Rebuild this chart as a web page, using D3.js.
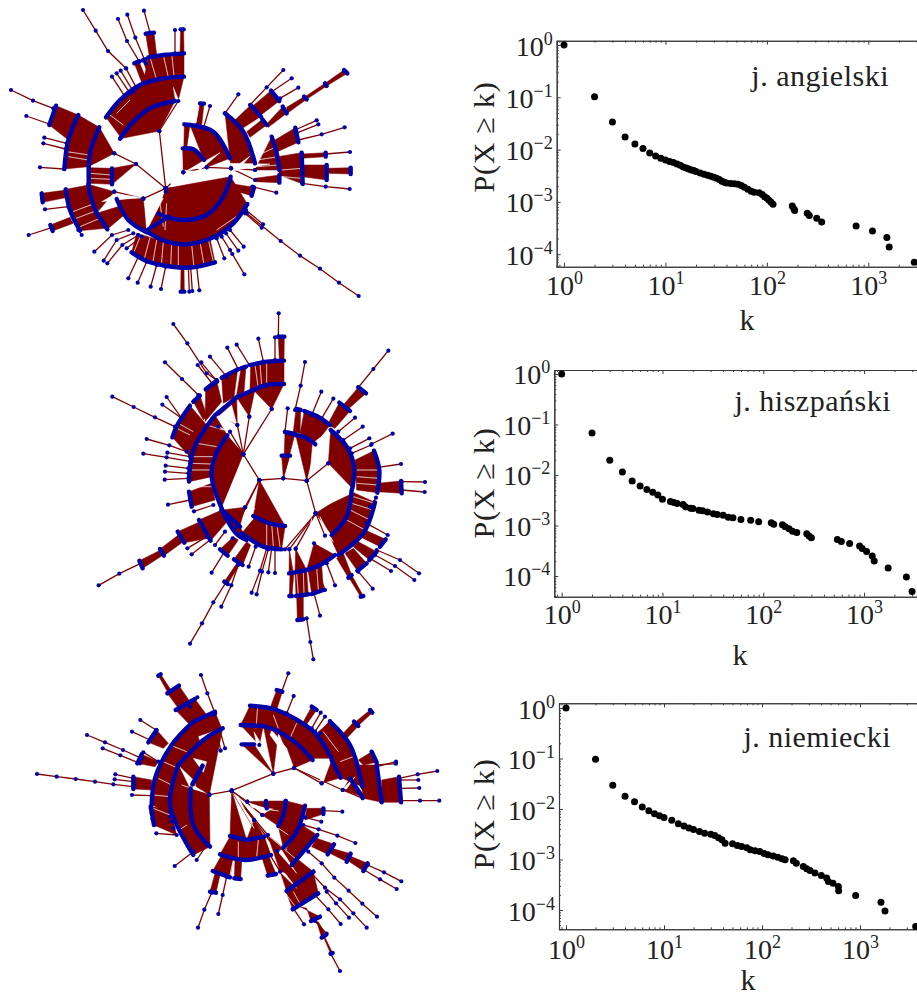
<!DOCTYPE html>
<html>
<head>
<meta charset="utf-8">
<script src="https://cdn.jsdelivr.net/npm/d3@7"></script>
<style>
  html, body { margin: 0; padding: 0; background: #fff; }
  svg { display: block; }
  text { font-family: "Liberation Serif", "DejaVu Serif", serif; fill: #222; }
</style>
</head>
<body>
<div id="container"></div>
<script>
/* DATA: rank-size points */

const tickExponents = [0, -1, -2, -3, -4];
const decades = [1, 10, 100, 1000];

const angielskiK = [1,2,3,4,5,6,7,8,9,10,11,12,13,14,15,16,17,18,19,20,22,24,26,28,30,32,34,36,38,40,44,48,52,56,60,65,70,75,84,90,95,100,105,110,115,178,185,188,250,262,310,347,758,1099,1524,1606,2838];
const angielskiP = [1,.103,.0338,.01746,.0128,.01045,.00863,.00757,.00682,.00635,.0059,.00565,.00532,.00502,.00467,.00446,.00427,.00409,.00397,.0038,.00358,.00338,.00323,.00309,.00296,.00283,.00267,.00248,.00238,.00231,.00224,.00223,.00218,.00205,.00191,.00175,.0016,.00153,.00149,.00138,.00126,.00117,.00108,.00099,.0009,.000839,.000735,.000683,.000607,.000548,.000487,.000415,.000348,.000279,.000208,.000138,.0000703];

const hiszpanskiK = [1,2,3,4,5,6,7,8,9,10,12,13,14,16,17,19,20,23,25,28,32,35,40,45,50,60,75,90,120,127,155,165,180,195,215,270,285,300,543,595,719,903,959,1059,1205,1260,1734,2630,2993];
const hiszpanskiP = [1,.0675,.0195,.01146,.0076,.00607,.00514,.00455,.00403,.00331,.00298,.00284,.00272,.0026,.00233,.0022,.00217,.00201,.00195,.00186,.0017,.00165,.0016,.00146,.00142,.00131,.00127,.00118,.00113,.00106,.00103,.00094,.00086,.00077,.00073,.000685,.000616,.00057,.00053,.000483,.000441,.000391,.000352,.000307,.000248,.000198,.000144,.0000956,.0000491];

const niemieckiK = [1,2,3,4,5,6,7,8,9,10,12,14,16,18,20,23,26,30,33,36,39,42,50,56,62,70,76,85,95,105,115,130,145,160,172,209,224,264,286,309,347,403,457,475,530,601,606,903,1638,1799,3700];
const niemieckiP = [1,.097,.0295,.01785,.014,.01096,.00927,.00807,.00737,.00683,.00596,.00512,.00459,.00419,.00394,.0036,.00333,.00318,.003,.00269,.00246,.00211,.00205,.0019,.00181,.00171,.00156,.00149,.00144,.00132,.00124,.00118,.00111,.00103,.000985,.00094,.000845,.000726,.000653,.000604,.000543,.000481,.000432,.000366,.000339,.000291,.000242,.000193,.000142,.0000955,.0000473];

/* DATA: trees, in layout units.
   fans: [parent span, child arc], chains: node paths, gaps: white slivers between edges */

const tree1Fans = [
  [[[478,393]], [[360,416],[400,365],[450,325],[525,303]]],
  [[[362,412],[400,365],[450,325],[535,300]], [[318,352],[360,300],[420,255],[480,237],[552,230]]],
  [[[430,245],[480,237],[552,230]], [[445,172],[490,165],[552,160]]],
  [[[448,170],[470,165]], [[437,101],[462,98]]],
  [[[540,160],[552,160]], [[542,88],[551,88]]],
  [[[425,247],[440,240]], [[403,190],[417,184]]],
  [[[450,238],[456,236]], [[428,181],[437,178]]],
  [[[343,460]], [[266,500],[272,450],[298,382]]],
  [[[408,492]], [[336,505],[336,553]]],
  [[[336,505],[340,553]], [[266,503],[266,550]]],
  [[[343,575]], [[265,553],[272,590],[290,640]]],
  [[[430,596]], [[290,640],[322,688]]],
  [[[430,596]], [[350,597],[385,660],[440,697]]],
  [[[497,565]], [[503,652],[555,660],[620,645],[670,590],[692,530]]],
  [[[497,565]], [[476,641],[492,648]]],
  [[[503,652],[555,660],[620,645],[670,590],[692,530]], [[440,695],[500,725],[560,733],[640,712],[700,670],[742,612]]],
  [[[497,575]], [[442,690],[505,650]]],
  [[[410,700],[500,725],[560,733],[630,715]], [[395,757],[440,783],[500,798],[570,803],[645,787]]],
  [[[543,802],[552,802]], [[542,875],[553,875]]],
  [[[265,500],[272,450],[298,382]], [[193,507],[205,420],[235,345]]],
  [[[205,420],[235,345]], [[148,375],[168,317]]],
  [[[266,555],[285,620],[318,685]], [[197,568],[210,630],[240,692]]],
  [[[197,570],[203,592]], [[125,580],[128,607]]],
  [[[210,652],[220,670]], [[151,675],[158,693]]],
  [[[550,517]], [[548,445],[580,448],[612,480]]],
  [[[550,517]], [[553,373],[570,375]]],
  [[[620,502]], [[570,375],[640,395],[690,475]]],
  [[[693,505]], [[675,340],[730,395],[765,490]]],
  [[[765,510]], [[815,410],[830,460],[838,510]]],
  [[[765,535],[765,545]], [[838,525],[838,548]]],
  [[[832,470],[838,525]], [[905,458],[908,552]]],
  [[[907,495],[907,530]], [[980,495],[980,540]]],
  [[[980,505],[980,520]], [[1052,503],[1052,522]]],
  [[[905,462],[906,475]], [[977,458],[977,470]]],
  [[[825,420],[832,455]], [[886,383],[895,427]]],
  [[[705,360],[730,385]], [[752,315],[783,350]]],
  [[[740,395],[750,412]], [[787,358],[800,375]]],
  [[[758,318],[783,345]], [[813,272],[838,303]]],
  [[[800,372],[805,382]], [[848,320],[860,340]]],
  [[[860,322],[862,340]], [[912,290],[920,298]]],
  [[[915,290],[920,298]], [[975,250],[980,258]]],
  [[[975,250],[980,258]], [[1032,210],[1042,220]]],
  [[[700,552],[695,570]], [[762,562],[755,587]]],
  [[[590,372],[605,375]], [[600,310],[612,311]]]
];
const tree1Chains = [
  [[497,565],[550,517],[620,502],[693,505],[765,510]],
  [[693,505],[765,540]],
  [[497,565],[478,393]], [[478,393],[535,303]],
  [[497,565],[408,492],[343,460]],
  [[497,565],[430,596],[343,575]],
  [[525,160],[525,90]],
  [[410,265],[378,205]], [[400,275],[362,212]], [[390,280],[350,220]], [[375,290],[336,230]],
  [[438,190],[406,113],[382,44]], [[418,185],[381,123],[354,57]],
  [[450,98],[432,32]],
  [[378,205],[324,153],[287,92],[249,30]],
  [[160,325],[99,302],[33,270]], [[148,372],[79,348]],
  [[200,430],[133,413]], [[197,447],[130,430]], [[192,507],[120,502]],
  [[205,620],[135,628]], [[155,683],[86,705]], [[235,690],[245,705]],
  [[385,690],[336,705],[283,755]], [[400,700],[350,720],[311,782]], [[415,705],[367,735],[322,790]], [[425,710],[380,745]],
  [[415,770],[385,835]], [[440,785],[413,848]], [[470,795],[452,860]], [[497,800],[483,867]],
  [[565,802],[568,875]], [[572,802],[577,873]], [[590,800],[598,871]],
  [[650,715],[673,775]], [[665,710],[697,762]], [[678,700],[715,752]], [[690,690],[731,740]], [[690,750],[733,823]],
  [[735,640],[785,683]], [[738,630],[789,673]],
  [[740,640],[842,723],[900,767],[960,806],[1017,848],[1076,888]],
  [[590,375],[605,312]], [[610,385],[630,318]], [[675,340],[715,283]],
  [[750,315],[800,262],[850,210]], [[815,275],[875,235]], [[840,295],[895,263]],
  [[885,390],[950,361]], [[887,400],[955,373]], [[895,420],[965,403],[1034,382]],
  [[977,462],[1050,456]], [[907,550],[977,560],[1049,567]], [[757,560],[829,578]]
];
const tree1Gaps = [
  [[585,500],[660,458],[600,510]], [[700,505],[750,468],[712,512]], [[690,490],[810,492],[700,512]],
  [[275,497],[340,468],[348,480]], [[305,605],[345,582],[425,592]], [[435,600],[440,690],[490,595]],
  [[520,262],[535,298],[527,305]], [[500,505],[690,525],[515,560]],
  [[450,172],[470,240]], [[490,165],[505,232]], [[515,160],[522,228]], [[350,340],[390,300]], [[370,375],[330,345]],
  [[205,470],[265,480]], [[200,455],[268,465]], [[205,640],[285,610]], [[215,660],[295,630]], [[240,680],[300,655]],
  [[270,520],[335,525]], [[270,535],[335,538]],
  [[425,700],[400,760]], [[450,712],[432,780]], [[470,720],[458,790]], [[490,724],[484,795]], [[515,728],[512,800]],
  [[535,732],[535,800]], [[575,733],[582,802]], [[600,725],[612,795]], [[625,718],[640,785]],
  [[480,610],[490,680]], [[500,610],[495,690]], [[650,690],[745,625]],
  [[770,480],[835,470]], [[770,500],[835,495]], [[845,510],[905,505]], [[845,530],[905,535]],
  [[765,470],[830,440]], [[755,440],[815,410]], [[730,385],[785,350]], [[700,355],[750,315]]
];

const tree2Fans = [
  [[[580,505]], [[575,437],[600,437]]],
  [[[580,505]], [[585,366],[615,372]]],
  [[[650,512]], [[617,375],[645,382],[676,403]]],
  [[[630,370],[676,403]], [[643,303],[680,318],[720,345]]],
  [[[715,460]], [[722,360],[770,410],[792,470],[787,535]]],
  [[[677,610]], [[785,540],[770,620],[725,675]]],
  [[[785,545],[760,640],[720,680]], [[855,577],[820,670],[745,735]]],
  [[[672,700]], [[735,735],[690,765],[650,780]]],
  [[[598,718]], [[597,790],[610,788]]],
  [[[617,716]], [[615,787],[650,780]]],
  [[[795,450],[800,540]], [[852,422],[868,480],[862,548]]],
  [[[712,345],[735,355]], [[748,278],[780,303]]],
  [[[760,285],[775,297]], [[805,232],[828,250]]],
  [[[545,297]], [[490,240],[530,225],[582,222]]],
  [[[460,433]], [[395,595],[365,500],[375,440],[412,376]]],
  [[[508,510]], [[585,648],[540,640],[490,618]]],
  [[[585,650],[540,640],[495,622]], [[575,718],[520,710],[455,670]]],
  [[[465,592]], [[450,650],[395,600]]],
  [[[395,600],[450,650]], [[395,600],[440,672],[470,690]]],
  [[[366,500],[375,440],[412,376]], [[297,515],[310,420],[375,315]]],
  [[[442,345]], [[380,312],[440,262]]],
  [[[478,320]], [[440,262],[495,238]]],
  [[[480,238],[530,225],[582,222]], [[482,165],[530,155],[582,152]]],
  [[[400,280],[432,262]], [[395,203],[443,178]]],
  [[[440,255],[462,245]], [[453,175],[468,170]]],
  [[[345,335],[395,275]], [[347,238],[380,212]]],
  [[[300,440],[350,345]], [[247,382],[262,345],[300,287]]],
  [[[340,330],[350,315]], [[310,275],[330,257]]],
  [[[568,152],[582,152]], [[565,80],[583,80]]],
  [[[395,600],[420,625]], [[327,630],[362,692]]],
  [[[330,635],[355,685]], [[263,665],[283,698]]],
  [[[265,675],[280,695]], [[210,717],[222,737]]],
  [[[212,720],[220,735]], [[148,752],[158,775]]],
  [[[430,680],[445,690]], [[390,718],[413,737]]],
  [[[470,695],[482,705]], [[432,748],[458,765]]],
  [[[440,760],[448,765]], [[403,815],[413,822]]],
  [[[600,790],[612,785]], [[598,858],[606,858]]],
  [[[615,790],[650,782]], [[618,858],[655,853]]],
  [[[620,858],[640,855]], [[622,930],[640,928]]],
  [[[655,785],[695,765]], [[665,852],[700,840]]],
  [[[740,745],[760,730]], [[775,803],[785,795]]],
  [[[775,800],[785,795]], [[812,860],[820,858]]],
  [[[765,730],[790,715]], [[802,782],[830,760]]],
  [[[790,710],[805,695]], [[838,750],[860,725]]],
  [[[810,680],[825,660]], [[870,710],[887,688]]],
  [[[860,520],[862,545]], [[933,513],[935,550]]],
  [[[610,365],[630,370]], [[618,297],[632,300]]],
  [[[365,520],[375,570]], [[297,545],[305,590]]]
];
const tree2Chains = [
  [[508,510],[580,505],[650,512],[677,610]], [[650,512],[715,460]],
  [[508,510],[460,433],[545,297]], [[460,433],[420,365]], [[460,433],[478,320]], [[460,433],[442,345]], [[460,433],[385,350]],
  [[508,510],[465,592]], [[508,510],[440,650]],
  [[677,610],[598,718]], [[677,610],[617,716]], [[677,610],[585,718]], [[677,610],[705,677]],
  [[565,80],[566,10]], [[520,155],[505,86]], [[555,150],[555,82]], [[478,165],[440,104]], [[445,178],[412,113]],
  [[410,200],[360,140]], [[382,215],[334,157]], [[370,225],[323,165]],
  [[380,210],[350,190],[292,100],[250,42]], [[325,255],[276,207],[225,157]],
  [[275,325],[230,261]], [[275,325],[217,284]], [[255,350],[195,322],[131,291],[67,260]],
  [[290,425],[238,406],[170,387]], [[300,440],[232,428]], [[305,455],[230,442],[160,431]],
  [[295,475],[227,467]], [[295,490],[225,485]], [[295,505],[224,509]], [[300,570],[234,584]], [[370,585],[312,604]],
  [[152,760],[88,791],[26,826]], [[405,665],[375,705]], [[350,680],[292,715]], [[360,690],[305,733]],
  [[428,685],[365,788]], [[445,765],[424,826],[394,890]], [[448,762],[408,817],[370,877],[336,940],[300,1001]],
  [[497,710],[476,770]], [[530,715],[510,782],[485,848]], [[535,718],[516,785],[500,853]], [[545,715],[535,787]], [[555,715],[555,789]],
  [[650,925],[661,996],[670,1048]], [[672,850],[690,917]], [[680,770],[705,840]], [[710,760],[735,826]],
  [[805,785],[848,836]], [[830,640],[893,675]], [[855,735],[915,768],[973,810]], [[860,720],[930,750],[987,790]], [[840,745],[903,783]],
  [[840,590],[858,563]], [[865,472],[933,462]], [[935,515],[1005,516]], [[935,540],[1004,546]], [[845,402],[908,371]],
  [[780,415],[838,385]], [[760,390],[818,350]], [[745,365],[795,323]], [[785,430],[843,405]],
  [[695,325],[730,266]], [[665,315],[694,245]], [[805,232],[850,177],[895,122]], [[615,300],[632,227],[645,156]], [[585,365],[593,295]]
];
const tree2Gaps = [
  [[385,320],[440,342],[425,285]], [[480,320],[495,262],[500,320]], [[380,348],[420,368],[415,362]],
  [[450,650],[495,595],[468,600]], [[690,620],[730,695],[705,672]], [[660,700],[665,625],[640,735]],
  [[720,360],[668,400],[660,495]], [[795,545],[700,590],[785,530]], [[397,590],[460,440],[480,520]],
  [[560,640],[570,710]], [[545,640],[550,708]], [[530,636],[530,706]],
  [[300,480],[362,480]], [[302,460],[365,462]], [[297,530],[368,530]], [[305,440],[372,440]], [[320,400],[380,410]], [[350,345],[400,360]],
  [[800,480],[865,480]], [[800,500],[868,505]], [[800,520],[865,525]],
  [[790,560],[855,580]], [[785,580],[850,600]], [[780,600],[840,630]], [[770,630],[825,660]],
  [[250,350],[300,375]], [[265,340],[310,365]], [[530,155],[530,222]], [[510,160],[515,228]], [[495,165],[505,235]],
  [[620,790],[625,855]], [[640,785],[642,852]], [[680,770],[685,840]]
];

const tree3Fans = [
  [[[730,326]], [[635,238],[672,238]]],
  [[[688,240]], [[632,180],[700,183]]],
  [[[730,326]], [[700,183],[745,198]]],
  [[[792,309]], [[745,200],[800,235],[848,285]]],
  [[[632,180],[700,185],[790,225],[848,280]], [[660,122],[740,135],[850,200],[905,280]]],
  [[[875,355]], [[905,285],[932,338]]],
  [[[860,205],[905,280],[932,338]], [[900,170],[960,240],[997,365]]],
  [[[975,300],[1000,390]], [[1040,300],[1055,410]]],
  [[[938,375]], [[960,340],[997,395]]],
  [[[997,385],[1000,400]], [[1055,400],[1055,412]]],
  [[[1055,345],[1057,412]], [[1107,335],[1113,412]]],
  [[[985,285],[1000,300]], [[1025,260],[1040,292]]],
  [[[935,210],[948,222]], [[972,170],[985,183]]],
  [[[975,172],[985,182]], [[1020,135],[1027,143]]],
  [[[820,170],[830,178]], [[845,125],[860,135]]],
  [[[720,130],[740,135]], [[740,75],[757,80]]],
  [[[538,389]], [[540,545],[490,480],[482,370]]],
  [[[538,389]], [[487,358],[518,302]]],
  [[[540,545],[490,480],[482,375]], [[490,570],[420,420],[445,300]]],
  [[[538,389]], [[445,300],[520,225],[578,190]]],
  [[[420,440],[430,340],[470,270],[510,232]], [[365,420],[375,340],[425,240],[490,170]]],
  [[[500,215],[575,190]], [[490,170],[555,140]]],
  [[[420,430],[440,510]], [[362,425],[372,480]]],
  [[[365,345],[365,375]], [[310,335],[310,372]]],
  [[[375,305],[385,290]], [[322,295],[335,268]]],
  [[[400,250],[415,235]], [[355,232],[380,195]]],
  [[[475,175],[530,150]], [[437,135],[495,102]]],
  [[[445,130],[480,110]], [[412,85],[447,62]]],
  [[[415,85],[425,78]], [[385,32],[392,28]]],
  [[[605,377]], [[600,513],[650,525]]],
  [[[672,465]], [[650,525],[703,515]]],
  [[[600,515],[650,525],[703,515]], [[570,568],[645,585],[723,570]]],
  [[[575,570],[610,580]], [[548,618],[600,637]]],
  [[[615,585],[635,590]], [[613,640],[632,642]]],
  [[[695,575],[715,570]], [[713,632],[738,627]]],
  [[[555,625],[570,630]], [[540,680],[558,683]]],
  [[[652,410]], [[708,408],[710,430]]],
  [[[710,408],[712,430]], [[767,408],[765,430]]],
  [[[697,450]], [[767,408],[760,450],[745,483]]],
  [[[770,408],[745,485]], [[825,422],[800,500],[760,548]]],
  [[[815,480],[770,550]], [[862,510],[785,600]]],
  [[[713,510]], [[850,620],[770,678]]],
  [[[742,558]], [[850,620],[770,678]]],
  [[[850,622],[768,680]], [[865,685],[788,733]]],
  [[[830,730],[810,725]], [[843,768],[870,755]]],
  [[[860,770],[865,770]], [[875,818],[888,810]]],
  [[[880,815],[884,815]], [[902,866],[908,864]]],
  [[[830,430],[825,465]], [[880,430],[880,447]]],
  [[[860,520],[845,545]], [[912,538],[893,568]]],
  [[[905,550],[900,565]], [[962,566],[950,590]]],
  [[[958,572],[955,588]], [[1013,595],[1000,618]]]
];
const tree3Chains = [
  [[538,389],[605,377],[730,326],[792,309],[875,355]], [[792,309],[938,375],[998,400]],
  [[605,377],[652,410]], [[605,377],[697,450]], [[605,377],[672,465]], [[605,377],[713,510]], [[605,377],[742,558]], [[605,377],[750,620]],
  [[1107,340],[1163,328],[1222,318]], [[1108,345],[1165,345]], [[1110,370],[1168,369]], [[1112,407],[1170,407],[1228,407]],
  [[1040,305],[1098,290]], [[1040,300],[1098,296]],
  [[845,190],[872,143]], [[855,200],[885,155]], [[870,205],[900,168]],
  [[755,80],[775,25]], [[770,145],[791,93]],
  [[555,145],[532,85],[513,30]], [[555,145],[585,250]], [[550,150],[572,257]], [[480,125],[502,97]],
  [[385,290],[340,262]], [[378,195],[331,165]], [[360,225],[306,200]],
  [[335,280],[279,255],[225,232],[171,210]], [[330,295],[271,271],[218,250]],
  [[310,365],[250,358],[195,350],[137,342],[80,335],[21,327]], [[310,340],[256,328]], [[310,350],[254,343]], [[365,392],[306,390]],
  [[490,560],[434,603]], [[530,540],[500,585]],
  [[420,440],[363,430]], [[420,455],[365,445]], [[425,470],[367,462]], [[430,490],[372,480]], [[440,510],[379,505]],
  [[545,683],[523,734],[504,788]], [[590,635],[578,690],[565,747]],
  [[880,437],[937,440]], [[825,457],[874,470]], [[820,480],[866,493],[922,512],[976,534]],
  [[1013,600],[1062,622],[1114,649]], [[1003,615],[1050,643],[1100,672]],
  [[835,560],[875,595],[913,638],[956,677],[997,716],[1041,755]],
  [[845,625],[885,668],[930,703],[970,745],[1010,788]], [[890,680],[918,715],[957,758]], [[855,690],[895,733],[932,777]],
  [[790,730],[822,778]], [[855,768],[890,806]], [[902,866],[930,918]]
];
const tree3Gaps = [
  [[683,125],[678,190]], [[672,200],[680,240],[690,230]], [[720,210],[790,305],[770,250],[725,195]], [[730,150],[745,190]],
  [[800,175],[780,220]], [[880,350],[900,295],[870,345]], [[938,372],[975,335],[950,372]], [[880,200],[925,260]], [[930,290],[970,275]],
  [[490,280],[530,290],[520,322]], [[455,360],[520,380],[490,372]], [[490,340],[500,375]],
  [[420,240],[470,260]], [[400,290],[445,310]], [[385,340],[425,360]], [[370,390],[420,395]], [[370,430],[420,450]], [[440,500],[470,480]],
  [[610,385],[672,490],[625,395]], [[660,420],[745,438],[668,428]],
  [[695,455],[775,510]], [[713,510],[795,580]], [[742,558],[800,625],[755,555]], [[750,620],[800,670],[765,625]],
  [[770,690],[800,730]], [[790,680],[815,725]], [[610,585],[600,630]], [[685,525],[680,575]], [[625,530],[625,580]]
];

/* LAYOUT */

const width = 917;
const height = 997;

const colors = { edge: "#800000", node: "#0000a8", axis: "#3a3a3a" };

const treePanels = [
  { fans: tree1Fans, chains: tree1Chains, gaps: tree1Gaps, left: 0, top: 0 },
  { fans: tree2Fans, chains: tree2Chains, gaps: tree2Gaps, left: 90, top: 310 },
  { fans: tree3Fans, chains: tree3Chains, gaps: tree3Gaps, left: 30, top: 665 }
];

const plotPanels = [
  { k: angielskiK, p: angielskiP, title: "j. angielski", titleX: 889, titleY: 86, tickY: 28,
    left: 556.7, top: 40.7, bottom: 266.7, xDomain: [0.847, 3020], yDomain: [1.21, 5.77e-5], labelX: 494, labelY: 137, xLabelY: 330, xLabelX: 747 },
  { k: hiszpanskiK, p: hiszpanskiP, title: "j. hiszpański", titleX: 891, titleY: 411, tickY: 27.5,
    left: 554.3, top: 370, bottom: 596.7, xDomain: [0.845, 3350], yDomain: [1.2, 3.89e-5], labelX: 494, labelY: 483, xLabelY: 665, xLabelX: 740 },
  { k: niemieckiK, p: niemieckiP, title: "j. niemiecki", titleX: 891, titleY: 747, tickY: 30,
    left: 559, top: 703.3, bottom: 929.3, xDomain: [0.848, 3817], yDomain: [1.24, 4.15e-5], labelX: 494, labelY: 814, xLabelY: 990, xLabelX: 748 }
];

/* HTML ELEMENTS */

const svg = d3.select("#container")
  .append("svg")
  .attr("width", width)
  .attr("height", height)
  .attr("viewBox", `0 0 ${width} ${height}`);

/* TREES */

treePanels.forEach(panel => {
  // layout units are 1/3 of a page pixel
  const xScale = d3.scaleLinear().domain([0, 1100]).range([panel.left, panel.left + 1100 / 3]);
  const yScale = d3.scaleLinear().domain([0, 1100]).range([panel.top, panel.top + 1100 / 3]);

  const arcLine = d3.line()
    .x(d => xScale(d[0]))
    .y(d => yScale(d[1]))
    .curve(d3.curveCatmullRom);

  const g = svg.append("g");

  g.selectAll("path.fan")
    .data(panel.fans)
    .join("path")
    .attr("class", "fan")
    .attr("fill", colors.edge)
    .attr("stroke", colors.edge)
    .attr("stroke-width", 0.5)
    .attr("d", d => {
      const child = arcLine(d[1]);
      const parent = arcLine(d[0].slice().reverse()) || "";
      return child + "L" + parent.slice(1) + "Z";
    });

  g.selectAll("path.chain")
    .data(panel.chains)
    .join("path")
    .attr("class", "chain")
    .attr("fill", "none")
    .attr("stroke", colors.edge)
    .attr("stroke-width", 1.3)
    .attr("d", d3.line().x(d => xScale(d[0])).y(d => yScale(d[1])));

  g.selectAll("path.gap")
    .data(panel.gaps)
    .join("path")
    .attr("class", "gap")
    .attr("fill", "#fff")
    .attr("stroke", "#fff")
    .attr("stroke-width", 0.45)
    .attr("d", d => d3.line().x(p => xScale(p[0])).y(p => yScale(p[1]))(d) + "Z");

  g.selectAll("path.arc")
    .data(panel.fans)
    .join("path")
    .attr("class", "arc")
    .attr("fill", "none")
    .attr("stroke", colors.node)
    .attr("stroke-width", 4.4)
    .attr("stroke-linecap", "round")
    .attr("d", d => arcLine(d[1]));

  const hubs = panel.fans.filter(d => d[0].length === 1).map(d => d[0][0]);
  g.selectAll("circle")
    .data(panel.chains.flat().concat(hubs))
    .join("circle")
    .attr("cx", d => xScale(d[0]))
    .attr("cy", d => yScale(d[1]))
    .attr("r", 2.1)
    .attr("fill", colors.node);
});

/* PLOTS */

plotPanels.forEach(panel => {
  const xScale = d3.scaleLog().domain(panel.xDomain).range([panel.left, width]);
  const yScale = d3.scaleLog().domain(panel.yDomain).range([panel.top, panel.bottom]);

  const yMajor = tickExponents.map(e => Math.pow(10, e));
  const xMinor = xScale.ticks().filter(d => !decades.some(m => Math.abs(m - d) < 1e-9));
  const yMinor = yScale.ticks().filter(d => !yMajor.some(m => Math.abs(m - d) / m < 1e-6));

  const g = svg.append("g");

  // minor then major ticks on all drawn sides
  const minorX = d3.axisBottom(xScale).tickValues(xMinor).tickSize(-2).tickFormat("");
  const minorXTop = d3.axisTop(xScale).tickValues(xMinor).tickSize(-2).tickFormat("");
  const minorY = d3.axisLeft(yScale).tickValues(yMinor).tickSize(-2).tickFormat("");
  const majorXTop = d3.axisTop(xScale).tickValues(decades).tickSize(-4).tickFormat("");
  const majorX = d3.axisBottom(xScale).tickValues(decades).tickSize(-4).tickSizeOuter(0);
  const majorY = d3.axisLeft(yScale).tickValues(yMajor).tickSize(-4).tickSizeOuter(0);

  g.append("g").attr("transform", `translate(0,${panel.bottom})`).call(minorX);
  g.append("g").attr("transform", `translate(0,${panel.top})`).call(minorXTop);
  g.append("g").attr("transform", `translate(${panel.left},0)`).call(minorY);
  g.append("g").attr("transform", `translate(0,${panel.top})`).call(majorXTop);

  const xAxisG = g.append("g").attr("transform", `translate(0,${panel.bottom})`).call(majorX);
  const yAxisG = g.append("g").attr("transform", `translate(${panel.left},0)`).call(majorY);

  g.selectAll("path.domain, line").attr("stroke", colors.axis);
  g.selectAll("path.domain").attr("stroke-width", 1.1);

  // powers of ten as real text with a raised exponent
  const powerLabel = (sel, exponent) => {
    sel.text("").attr("fill", "#222");
    sel.append("tspan").attr("font-size", 28).text("10");
    sel.append("tspan").attr("font-size", 18).attr("dy", -11).text(String(exponent).replace("-", "\u2212"));
  };

  xAxisG.selectAll(".tick text")
    .attr("y", panel.tickY)
    .attr("dy", 0)
    .each(function (d) { powerLabel(d3.select(this), Math.round(Math.log10(d))); });

  yAxisG.selectAll(".tick text")
    .attr("x", -4)
    .attr("dy", 10)
    .each(function (d) { powerLabel(d3.select(this), Math.round(Math.log10(d))); });

  g.selectAll("circle")
    .data(d3.zip(panel.k, panel.p))
    .join("circle")
    .attr("cx", d => xScale(d[0]))
    .attr("cy", d => yScale(d[1]))
    .attr("r", 3.5)
    .attr("fill", "#000");

  g.append("text")
    .attr("x", panel.titleX)
    .attr("y", panel.titleY)
    .attr("text-anchor", "end")
    .attr("font-size", 30)
    .attr("letter-spacing", 0.5)
    .text(panel.title);

  g.append("text")
    .attr("x", panel.xLabelX)
    .attr("y", panel.xLabelY)
    .attr("text-anchor", "middle")
    .attr("font-size", 30)
    .text("k");

  g.append("text")
    .attr("transform", `translate(${panel.labelX},${panel.labelY}) rotate(-90)`)
    .attr("text-anchor", "middle")
    .attr("font-size", 30)
    .attr("letter-spacing", 0.8)
    .text("P(X \u2265 k)");
});
</script>
</body>
</html>
